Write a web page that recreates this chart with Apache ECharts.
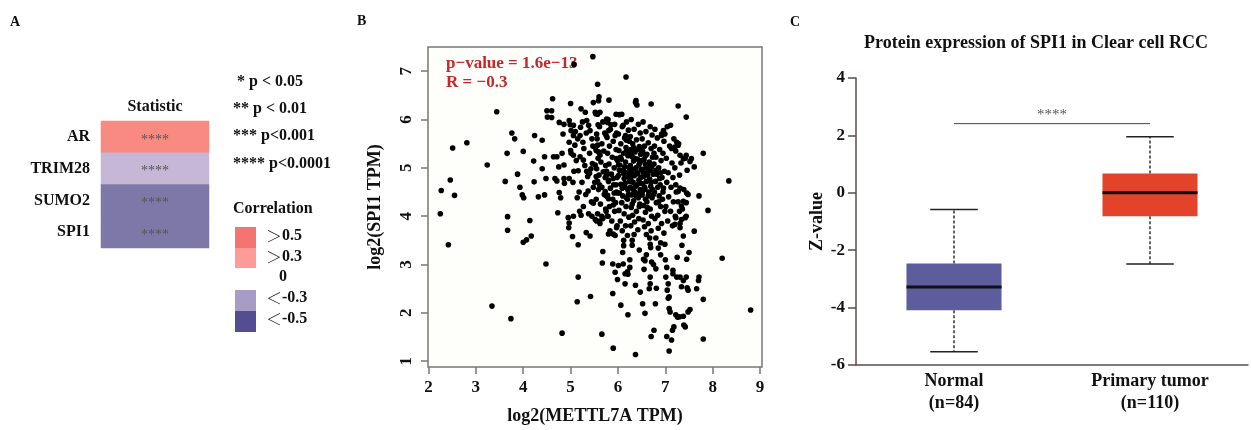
<!DOCTYPE html>
<html><head><meta charset="utf-8">
<script src="https://cdn.jsdelivr.net/npm/echarts@6/dist/echarts.min.js"></script>
<style>html,body{margin:0;padding:0;background:#fff}#c{width:1251px;height:430px}</style>
</head><body><div id="c"></div>
<script>
// ---------- Panel A data ----------
const genes = ['AR', 'TRIM28', 'SUMO2', 'SPI1'];
const heatColumn = ['Statistic'];
const correlation = [0.36, -0.12, -0.36, -0.36];
const significance = ['****', '****', '****', '****'];
const sigLegend = ['* p < 0.05', '** p < 0.01', '*** p<0.001', '**** p<0.0001'];
const corrLegendSym = ['\uFF1E', '\uFF1E', '', '\uFF1C', '\uFF1C'];
const corrLegendVal = ['0.5', '0.3', '0', '-0.3', '-0.5'];

// ---------- Panel B data ----------
const xTicksB = [2, 3, 4, 5, 6, 7, 8, 9];
const yTicksB = [1, 2, 3, 4, 5, 6, 7];
const statText = ['p\u2212value = 1.6e\u221213', 'R = \u22120.3'];
const scatterPoints = [
[2.25,4.05],[2.27,4.53],[2.46,4.75],[2.42,3.41],[2.51,5.41],[2.55,4.43],[2.81,5.52],[3.24,5.06],[3.44,6.16],[3.34,2.14],[3.62,4.72],[3.66,5.30],[3.76,5.72],[3.82,5.60],[3.67,3.99],[3.67,3.71],[3.74,1.88],[3.88,4.87],[3.93,4.60],[3.98,4.44],[4.01,4.38],[4.00,5.34],[4.14,3.91],[4.17,3.59],[4.07,3.51],[4.00,3.46],[4.22,5.14],[4.24,5.67],[4.23,4.71],[4.32,4.40],[4.40,5.57],[4.40,4.98],[4.45,5.23],[4.48,4.78],[4.45,4.44],[4.48,3.01],[4.50,6.18],[4.51,6.05],[4.60,6.18],[4.60,6.04],[4.62,6.43],[4.64,5.23],[4.71,5.23],[4.67,4.78],[4.71,4.73],[4.73,4.07],[4.76,5.94],[4.75,5.02],[4.76,4.49],[4.79,4.38],[4.82,1.58],[4.84,5.70],[4.86,5.90],[4.82,5.30],[4.86,5.06],[4.87,4.68],[4.86,4.78],[4.97,5.98],[4.99,5.89],[5.00,6.33],[5.01,5.77],[4.97,5.53],[5.00,5.36],[5.01,5.30],[4.97,4.78],[4.95,3.97],[4.97,3.86],[4.96,3.76],[5.06,5.88],[5.06,5.67],[5.09,5.47],[5.06,5.26],[5.07,4.93],[5.16,4.94],[5.06,4.00],[5.04,3.58],[5.16,3.41],[5.16,2.74],[5.14,2.23],[5.19,4.10],[5.14,4.38],[5.20,5.67],[5.21,5.84],[5.22,6.22],[5.26,5.53],[5.20,5.23],[5.27,5.16],[5.31,6.15],[5.34,5.98],[5.38,5.88],[5.41,5.77],[5.34,4.93],[5.40,4.89],[5.37,4.52],[5.33,3.66],[5.41,3.59],[5.42,2.34],[5.45,4.00],[5.48,4.27],[5.46,5.09],[5.52,5.06],[5.07,7.14],[5.47,7.30],[5.57,6.73],[5.60,6.47],[5.59,6.39],[5.52,6.15],[5.57,6.11],[5.62,6.15],[5.48,6.35],[5.58,5.89],[5.55,5.70],[5.57,5.47],[5.54,5.36],[5.59,5.33],[5.62,5.26],[5.54,4.82],[5.57,4.72],[5.61,4.65],[5.52,3.93],[5.55,3.90],[5.61,3.90],[5.66,4.00],[5.68,3.27],[5.67,3.03],[5.66,1.56],[5.81,6.40],[5.76,6.01],[5.78,5.94],[5.85,5.89],[5.80,5.77],[5.75,5.67],[5.76,4.85],[5.80,4.75],[5.73,4.51],[5.76,4.41],[5.80,4.36],[5.75,4.10],[5.78,4.00],[5.80,3.63],[5.90,3.63],[5.89,2.40],[5.90,1.27],[5.89,3.01],[5.94,2.84],[5.96,6.11],[5.94,5.67],[5.97,5.19],[6.01,5.06],[5.90,4.78],[5.96,4.65],[5.92,4.48],[5.99,4.48],[5.90,4.23],[5.97,3.76],[5.99,2.69],[6.01,2.98],[6.06,2.16],[6.11,3.01],[6.12,3.39],[6.17,6.88],[6.08,6.11],[6.11,5.88],[6.16,5.67],[6.18,5.57],[6.15,2.60],[6.15,2.81],[6.21,2.80],[6.25,2.94],[6.21,1.96],[6.37,1.14],[6.37,2.57],[6.37,6.35],[6.40,6.30],[6.38,6.39],[6.47,2.43],[6.52,2.19],[6.57,1.99],[6.54,3.11],[6.57,3.08],[6.70,6.32],[6.68,2.74],[6.68,2.60],[6.66,2.50],[6.70,1.51],[6.76,1.64],[6.79,2.19],[6.81,2.51],[6.80,2.91],[6.71,3.05],[6.69,3.35],[6.68,3.42],[6.85,3.34],[6.99,3.42],[7.03,2.94],[7.01,2.74],[7.06,2.60],[7.04,2.47],[7.08,2.33],[7.06,2.30],[7.08,2.09],[7.10,2.02],[7.03,1.51],[7.08,1.21],[7.13,1.44],[7.15,1.64],[7.18,1.71],[7.16,2.81],[7.16,2.88],[7.24,2.74],[7.25,3.15],[7.22,1.96],[7.26,1.91],[7.30,1.92],[7.27,6.28],[7.44,6.05],[7.38,1.93],[7.39,1.75],[7.42,1.71],[7.48,2.02],[7.52,2.07],[7.31,2.74],[7.38,2.67],[7.44,2.74],[7.46,2.52],[7.48,2.47],[7.34,2.54],[7.45,3.11],[7.50,3.25],[7.38,3.59],[7.42,3.97],[7.61,3.69],[7.66,2.50],[7.70,2.67],[7.71,2.74],[7.80,2.28],[7.80,1.46],[7.80,5.30],[7.71,4.42],[7.90,4.12],[8.20,3.13],[8.34,4.73],[8.80,2.06],[7.61,5.02],[7.52,5.13],[7.55,5.19],[7.44,5.26],[7.31,5.26],[7.38,5.19],[7.45,4.48],[7.38,4.31],[7.44,4.28],[7.31,4.58],[7.22,4.65],[7.27,4.51],[7.34,4.21],[7.30,4.10],[7.22,3.97],[7.34,3.93],[7.31,3.76],[7.20,3.83],[7.11,5.88],[6.96,5.77],[6.99,5.70],[6.92,5.67],[7.24,5.53],[7.27,5.47],[7.20,5.43],[7.13,5.40],
[5.53,6.12],[5.68,5.95],[5.61,5.85],[5.72,5.72],[5.56,5.6],[5.66,5.5],[5.52,5.42],[5.7,5.35],[5.58,5.2],[5.64,5.12],[5.74,5.05],[5.55,4.98],[5.69,4.92],[5.6,4.85],[5.73,4.8],[5.51,4.7],[5.66,4.6],[5.59,4.55],[5.71,4.45],[5.54,4.35],[5.63,4.25],[5.74,4.15],[5.57,4.05],[5.68,3.95],[5.62,3.85],
[5.79,6.0],[5.93,5.9],[5.84,5.8],[5.97,5.72],[5.77,5.63],[5.9,5.55],[5.82,5.45],[5.96,5.38],[5.78,5.3],[5.88,5.22],[5.99,5.15],[5.81,5.08],[5.92,5.0],[5.76,4.93],[5.86,4.87],[5.98,4.8],[5.8,4.72],[5.91,4.65],[5.84,4.58],[5.97,4.5],[5.78,4.43],[5.89,4.35],[5.95,4.28],[5.82,4.2],[5.93,4.1],[5.79,4.0],[5.87,3.9],[5.98,3.8],[5.83,3.7],[5.94,3.6],
[6.03,6.1],[6.18,5.95],[6.09,5.85],[6.22,5.78],[6.01,5.7],[6.14,5.62],[6.24,5.55],[6.06,5.5],[6.17,5.42],[6.02,5.36],[6.12,5.3],[6.21,5.25],[6.07,5.18],[6.16,5.12],[6.04,5.06],[6.23,5.0],[6.11,4.95],[6.19,4.9],[6.01,4.84],[6.13,4.78],[6.24,4.72],[6.06,4.66],[6.15,4.6],[6.21,4.54],[6.03,4.48],[6.1,4.42],[6.2,4.35],[6.08,4.28],[6.17,4.2],[6.02,4.12],[6.13,4.05],[6.23,3.98],[6.05,3.9],[6.16,3.8],[6.09,3.7],[6.2,3.6],[6.12,3.5],
[6.28,6.0],[6.43,5.9],[6.34,5.8],[6.47,5.72],[6.26,5.65],[6.39,5.58],[6.31,5.5],[6.45,5.44],[6.27,5.38],[6.36,5.33],[6.48,5.28],[6.3,5.23],[6.41,5.18],[6.33,5.14],[6.46,5.1],[6.26,5.05],[6.38,5.0],[6.49,4.96],[6.29,4.92],[6.42,4.88],[6.35,4.84],[6.27,4.8],[6.44,4.75],[6.32,4.7],[6.4,4.65],[6.26,4.6],[6.47,4.55],[6.36,4.5],[6.29,4.44],[6.43,4.38],[6.33,4.32],[6.46,4.25],[6.28,4.18],[6.39,4.1],[6.31,4.02],[6.44,3.95],[6.35,3.88],[6.27,3.8],[6.42,3.72],[6.34,3.62],[6.3,3.5],
[6.53,5.95],[6.68,5.85],[6.59,5.75],[6.72,5.68],[6.51,5.6],[6.64,5.52],[6.56,5.45],[6.7,5.4],[6.52,5.34],[6.61,5.28],[6.73,5.22],[6.55,5.17],[6.66,5.12],[6.58,5.07],[6.71,5.02],[6.51,4.97],[6.63,4.92],[6.74,4.87],[6.54,4.82],[6.67,4.77],[6.6,4.72],[6.52,4.67],[6.69,4.62],[6.57,4.56],[6.65,4.5],[6.51,4.44],[6.72,4.38],[6.61,4.3],[6.54,4.22],[6.68,4.15],[6.58,4.08],[6.71,4.0],[6.53,3.92],[6.64,3.85],[6.56,3.78],[6.7,3.7],[6.6,3.62],[6.67,3.55],
[6.78,5.8],[6.92,5.7],[6.83,5.62],[6.97,5.55],[6.77,5.45],[6.88,5.38],[6.95,5.3],[6.8,5.22],[6.91,5.15],[6.76,5.08],[6.86,5.0],[6.98,4.93],[6.82,4.87],[6.93,4.8],[6.79,4.72],[6.89,4.65],[6.96,4.58],[6.77,4.5],[6.87,4.42],[6.94,4.35],[6.81,4.28],[6.9,4.2],[6.99,4.1],[6.84,4.02],[6.78,3.95],[6.92,3.85],[6.85,3.75],[6.97,3.65],[6.8,3.55],[6.9,3.45],
[7.04,5.85],[7.18,5.6],[7.09,5.45],[7.22,5.35],[7.02,5.2],[7.14,5.1],[7.2,5.0],[7.06,4.9],[7.16,4.8],[7.03,4.7],[7.12,4.6],[7.23,4.5],[7.07,4.4],[7.17,4.3],[7.01,4.2],[7.11,4.1],[7.21,4.0],[7.05,3.9],[7.15,3.8],
[7.28,5.5],[7.42,5.2],[7.33,5.1],[7.46,4.95],[7.3,4.85],[7.39,4.55],[7.48,4.45],[7.27,4.3],[7.36,4.15],[7.44,4.0],[7.31,3.85],
[5.25,5.95],[5.33,5.72],[5.45,5.6],[5.28,5.4],[5.4,5.3],[5.47,5.45],[5.3,5.05],[5.43,4.98],[5.36,4.82],[5.24,4.7],[5.48,4.6],[5.32,4.45],[5.44,4.3],[5.27,4.2],[5.38,4.05],[5.1,5.75],[5.15,5.6],[5.12,5.15],[5.05,4.7],[5.18,4.5],[5.22,4.02],
[6.3,3.4],[6.45,3.3],[6.6,3.2],[6.1,3.25],[6.9,3.2],[6.75,3.0],[7.35,3.4],[7.0,3.1],[6.55,2.9],[6.25,3.1],[6.2,2.85],
[6.05,5.22],[6.14,5.02],[6.22,4.82],[6.09,4.58],[6.18,4.38],[6.27,5.3],[6.35,5.2],[6.44,5.06],[6.31,4.97],[6.4,4.9],[6.48,4.8],[6.28,4.72],[6.37,4.62],[6.45,4.47],[6.32,4.55],[6.5,5.15],[6.58,5.25],[6.66,5.05],[6.54,4.9],[6.62,4.85],[6.7,4.7],[6.56,4.6],[6.64,4.42],[6.73,4.55],[6.8,4.95],[6.88,4.78],[6.84,4.6],[6.95,4.5],[6.9,4.9],[6.76,5.3],[6.42,5.38],[6.33,5.42],[6.25,4.9],[6.15,4.68],[6.47,4.68],[6.6,5.0],[6.68,4.95],[6.52,4.52],[6.38,4.42],[6.22,4.45],[6.12,4.88],[6.03,4.95],[6.58,4.35],[6.75,4.45],[6.86,4.3],[6.45,4.2],[6.3,4.25],[6.62,4.18],[6.18,5.35],[6.52,5.42]
];

// ---------- Panel C data ----------
const groups = ['Normal', 'Primary tumor'];
const groupN = [84, 110];
// [min, Q1, median, Q3, max]
const boxNormal = [-5.54, -4.09, -3.28, -2.46, -0.585];
const boxTumor = [-2.48, -0.82, 0.0, 0.67, 1.95];
const bracketLevel = [2.41];
const bracketText = ['****'];

const SERIF = "'Liberation Serif','Times New Roman',serif";
const boxColors = ['#5D5C9C', '#E4432B'];

const chart = echarts.init(document.getElementById('c'), null, {renderer: 'canvas'});

function txt(text, x, y, size, opts) {
  opts = opts || {};
  return {
    type: 'text', x: x, y: y, silent: true,
    style: {
      text: text, fill: opts.fill || '#111',
      font: (opts.weight || 'bold') + ' ' + size + 'px ' + (opts.family || SERIF),
      align: opts.align || 'left', verticalAlign: 'middle',
      textAlign: opts.align || 'left', textVerticalAlign: 'middle'
    }
  };
}

const graphics = [
  txt('A', 10, 22, 14),
  txt('B', 357, 21, 14),
  txt('C', 790, 22, 14),
  txt('Protein expression of SPI1 in Clear cell RCC', 1036, 43, 18, {align: 'center'}),
  txt(statText[0], 446, 63.5, 17, {fill: '#C3282B'}),
  txt(statText[1], 446, 82.5, 17, {fill: '#C3282B'}),
  txt('Correlation', 233, 209, 16)
];
const sigY = [82, 109, 136, 164];
const sigX = [237, 233, 233, 233];
sigLegend.forEach((s, i) => graphics.push(txt(s, sigX[i], sigY[i], 16)));

const legColors = ['#F47472', '#FC9B98', null, '#A69CC4', '#554D91'];
const legTop = [227, 248, null, 290, 311];
const legH = [21, 20, null, 21, 21];
const legY = [236, 257, 277, 298, 319];
corrLegendVal.forEach((v, i) => {
  if (legColors[i]) {
    graphics.push({type: 'rect', silent: true, shape: {x: 235, y: legTop[i], width: 21, height: legH[i]}, style: {fill: legColors[i]}});
    graphics.push({
      type: 'text', x: 266, y: legY[i], silent: true,
      style: {
        text: '{s|' + corrLegendSym[i] + '}{v|' + v + '}',
        rich: {
          s: {font: "300 16px 'Noto Sans CJK SC'", fill: '#222'},
          v: {font: 'bold 16px ' + SERIF, fill: '#111'}
        },
        align: 'left', verticalAlign: 'middle', textAlign: 'left', textVerticalAlign: 'middle'
      }
    });
  } else {
    graphics.push(txt(v, 283, legY[i], 16, {align: 'center'}));
  }
});

function renderBox(params, api) {
  const ci = api.value(0);
  const v = [api.value(1), api.value(2), api.value(3), api.value(4), api.value(5)];
  const x = api.coord([ci, v[2]])[0];
  const y = val => api.coord([ci, val])[1];
  const bw = api.size([1, 0])[0] * 0.485;
  const half = bw / 2, cap = bw / 4;
  const dash = {stroke: '#222', lineWidth: 1.4, lineDash: [3, 2]};
  const solid = {stroke: '#222', lineWidth: 1.5};
  return {
    type: 'group',
    children: [
      {type: 'line', shape: {x1: x, y1: y(v[3]), x2: x, y2: y(v[4])}, style: dash},
      {type: 'line', shape: {x1: x, y1: y(v[1]), x2: x, y2: y(v[0])}, style: dash},
      {type: 'line', shape: {x1: x - cap, y1: y(v[4]), x2: x + cap, y2: y(v[4])}, style: solid},
      {type: 'line', shape: {x1: x - cap, y1: y(v[0]), x2: x + cap, y2: y(v[0])}, style: solid},
      {type: 'rect', shape: {x: x - half, y: y(v[3]), width: bw, height: y(v[1]) - y(v[3])}, style: {fill: boxColors[ci]}},
      {type: 'line', shape: {x1: x - half, y1: y(v[2]), x2: x + half, y2: y(v[2])}, style: {stroke: '#111', lineWidth: 3}}
    ]
  };
}

function renderBracket(params, api) {
  const p0 = api.coord([api.value(0), api.value(2)]);
  const p1 = api.coord([api.value(1), api.value(2)]);
  return {
    type: 'group',
    children: [
      {type: 'line', shape: {x1: p0[0], y1: p0[1], x2: p1[0], y2: p1[1]}, style: {stroke: '#444', lineWidth: 1}},
      {type: 'text', x: (p0[0] + p1[0]) / 2, y: p0[1] - 1,
        style: {text: bracketText[params.dataIndex], fill: '#555', font: '15px ' + SERIF,
          align: 'center', verticalAlign: 'bottom', textAlign: 'center', textVerticalAlign: 'bottom'}}
    ]
  };
}

const axisGray = '#5A4E4A';

const option = {
  animation: false,
  backgroundColor: '#ffffff',
  textStyle: {fontFamily: SERIF},
  graphic: graphics,
  grid: [
    {left: 101, top: 121, width: 108, height: 127},
    {left: 428, top: 47, width: 334, height: 324, show: true, backgroundColor: '#FEFEFA', borderColor: '#777', borderWidth: 1.5},
    {left: 856, top: 78, width: 392, height: 287}
  ],
  visualMap: [{
    type: 'continuous', seriesIndex: 0, show: false, min: -0.6, max: 0.6, dimension: 2,
    inRange: {color: ['#4F4890', '#7E78A8', '#C5B7D5', '#FBEAEA', '#F88A82', '#F26B69']}
  }],
  xAxis: [
    {gridIndex: 0, type: 'category', data: heatColumn, position: 'top',
      axisLine: {show: false}, axisTick: {show: false}, splitLine: {show: false},
      axisLabel: {margin: 6, color: '#111', fontWeight: 'bold', fontSize: 16, fontFamily: SERIF}},
    {gridIndex: 1, type: 'value', min: 1.99, max: 9.04,
      axisLine: {show: false}, splitLine: {show: false},
      axisTick: {show: true, customValues: xTicksB, length: 7, lineStyle: {color: '#777', width: 1.5}},
      axisLabel: {customValues: xTicksB, margin: 12, color: '#111', fontWeight: 'bold', fontSize: 17, fontFamily: SERIF},
      name: 'log2(METTL7A TPM)', nameLocation: 'middle', nameGap: 40,
      nameTextStyle: {color: '#111', fontWeight: 'bold', fontSize: 18, fontFamily: SERIF}},
    {gridIndex: 2, type: 'category', data: groups,
      axisLine: {show: true, onZero: false, lineStyle: {color: axisGray, width: 1.5}},
      axisTick: {show: false}, splitLine: {show: false},
      axisLabel: {margin: 5, color: '#111', fontWeight: 'bold', fontSize: 18, fontFamily: SERIF, lineHeight: 22,
        formatter: (val, idx) => val + '\n(n=' + groupN[idx] + ')'}}
  ],
  yAxis: [
    {gridIndex: 0, type: 'category', data: genes, inverse: true,
      axisLine: {show: false}, axisTick: {show: false}, splitLine: {show: false},
      axisLabel: {margin: 11, color: '#111', fontWeight: 'bold', fontSize: 16, fontFamily: SERIF}},
    {gridIndex: 1, type: 'value', min: 0.88, max: 7.5,
      axisLine: {show: false}, splitLine: {show: false},
      axisTick: {show: true, customValues: yTicksB, length: 7, lineStyle: {color: '#777', width: 1.5}},
      axisLabel: {customValues: yTicksB, rotate: 90, margin: 13, color: '#111', fontWeight: 'bold', fontSize: 17, fontFamily: SERIF},
      name: 'log2(SPI1 TPM)', nameLocation: 'middle', nameGap: 44, nameRotate: 90,
      nameTextStyle: {color: '#111', fontWeight: 'bold', fontSize: 18, fontFamily: SERIF}},
    {gridIndex: 2, type: 'value', min: -6, max: 4, interval: 2,
      axisLine: {show: true, onZero: false, lineStyle: {color: axisGray, width: 1.5}},
      axisTick: {show: true, length: 8, lineStyle: {color: axisGray, width: 1.5}},
      splitLine: {show: false},
      axisLabel: {margin: 11, color: '#111', fontWeight: 'bold', fontSize: 17, fontFamily: SERIF},
      name: 'Z-value', nameLocation: 'middle', nameGap: 30, nameRotate: 90,
      nameTextStyle: {color: '#111', fontWeight: 'bold', fontSize: 18, fontFamily: SERIF}}
  ],
  series: [
    {type: 'heatmap', xAxisIndex: 0, yAxisIndex: 0,
      data: genes.map((g, i) => [0, i, correlation[i]]),
      label: {show: true, formatter: p => significance[p.data[1]], color: '#555', fontSize: 14, fontFamily: SERIF, offset: [0, 3]},
      emphasis: {disabled: true}},
    {type: 'scatter', xAxisIndex: 1, yAxisIndex: 1, data: scatterPoints, symbolSize: 5.6,
      itemStyle: {color: '#000000', opacity: 1}, emphasis: {disabled: true}},
    {type: 'custom', xAxisIndex: 2, yAxisIndex: 2, renderItem: renderBox,
      encode: {x: 0, y: [1, 2, 3, 4, 5]},
      data: [[0].concat(boxNormal), [1].concat(boxTumor)]},
    {type: 'custom', xAxisIndex: 2, yAxisIndex: 2, renderItem: renderBracket,
      encode: {x: [0, 1], y: 2},
      data: bracketLevel.map(l => [0, 1, l])}
  ]
};
chart.setOption(option);
</script>
</body></html>
